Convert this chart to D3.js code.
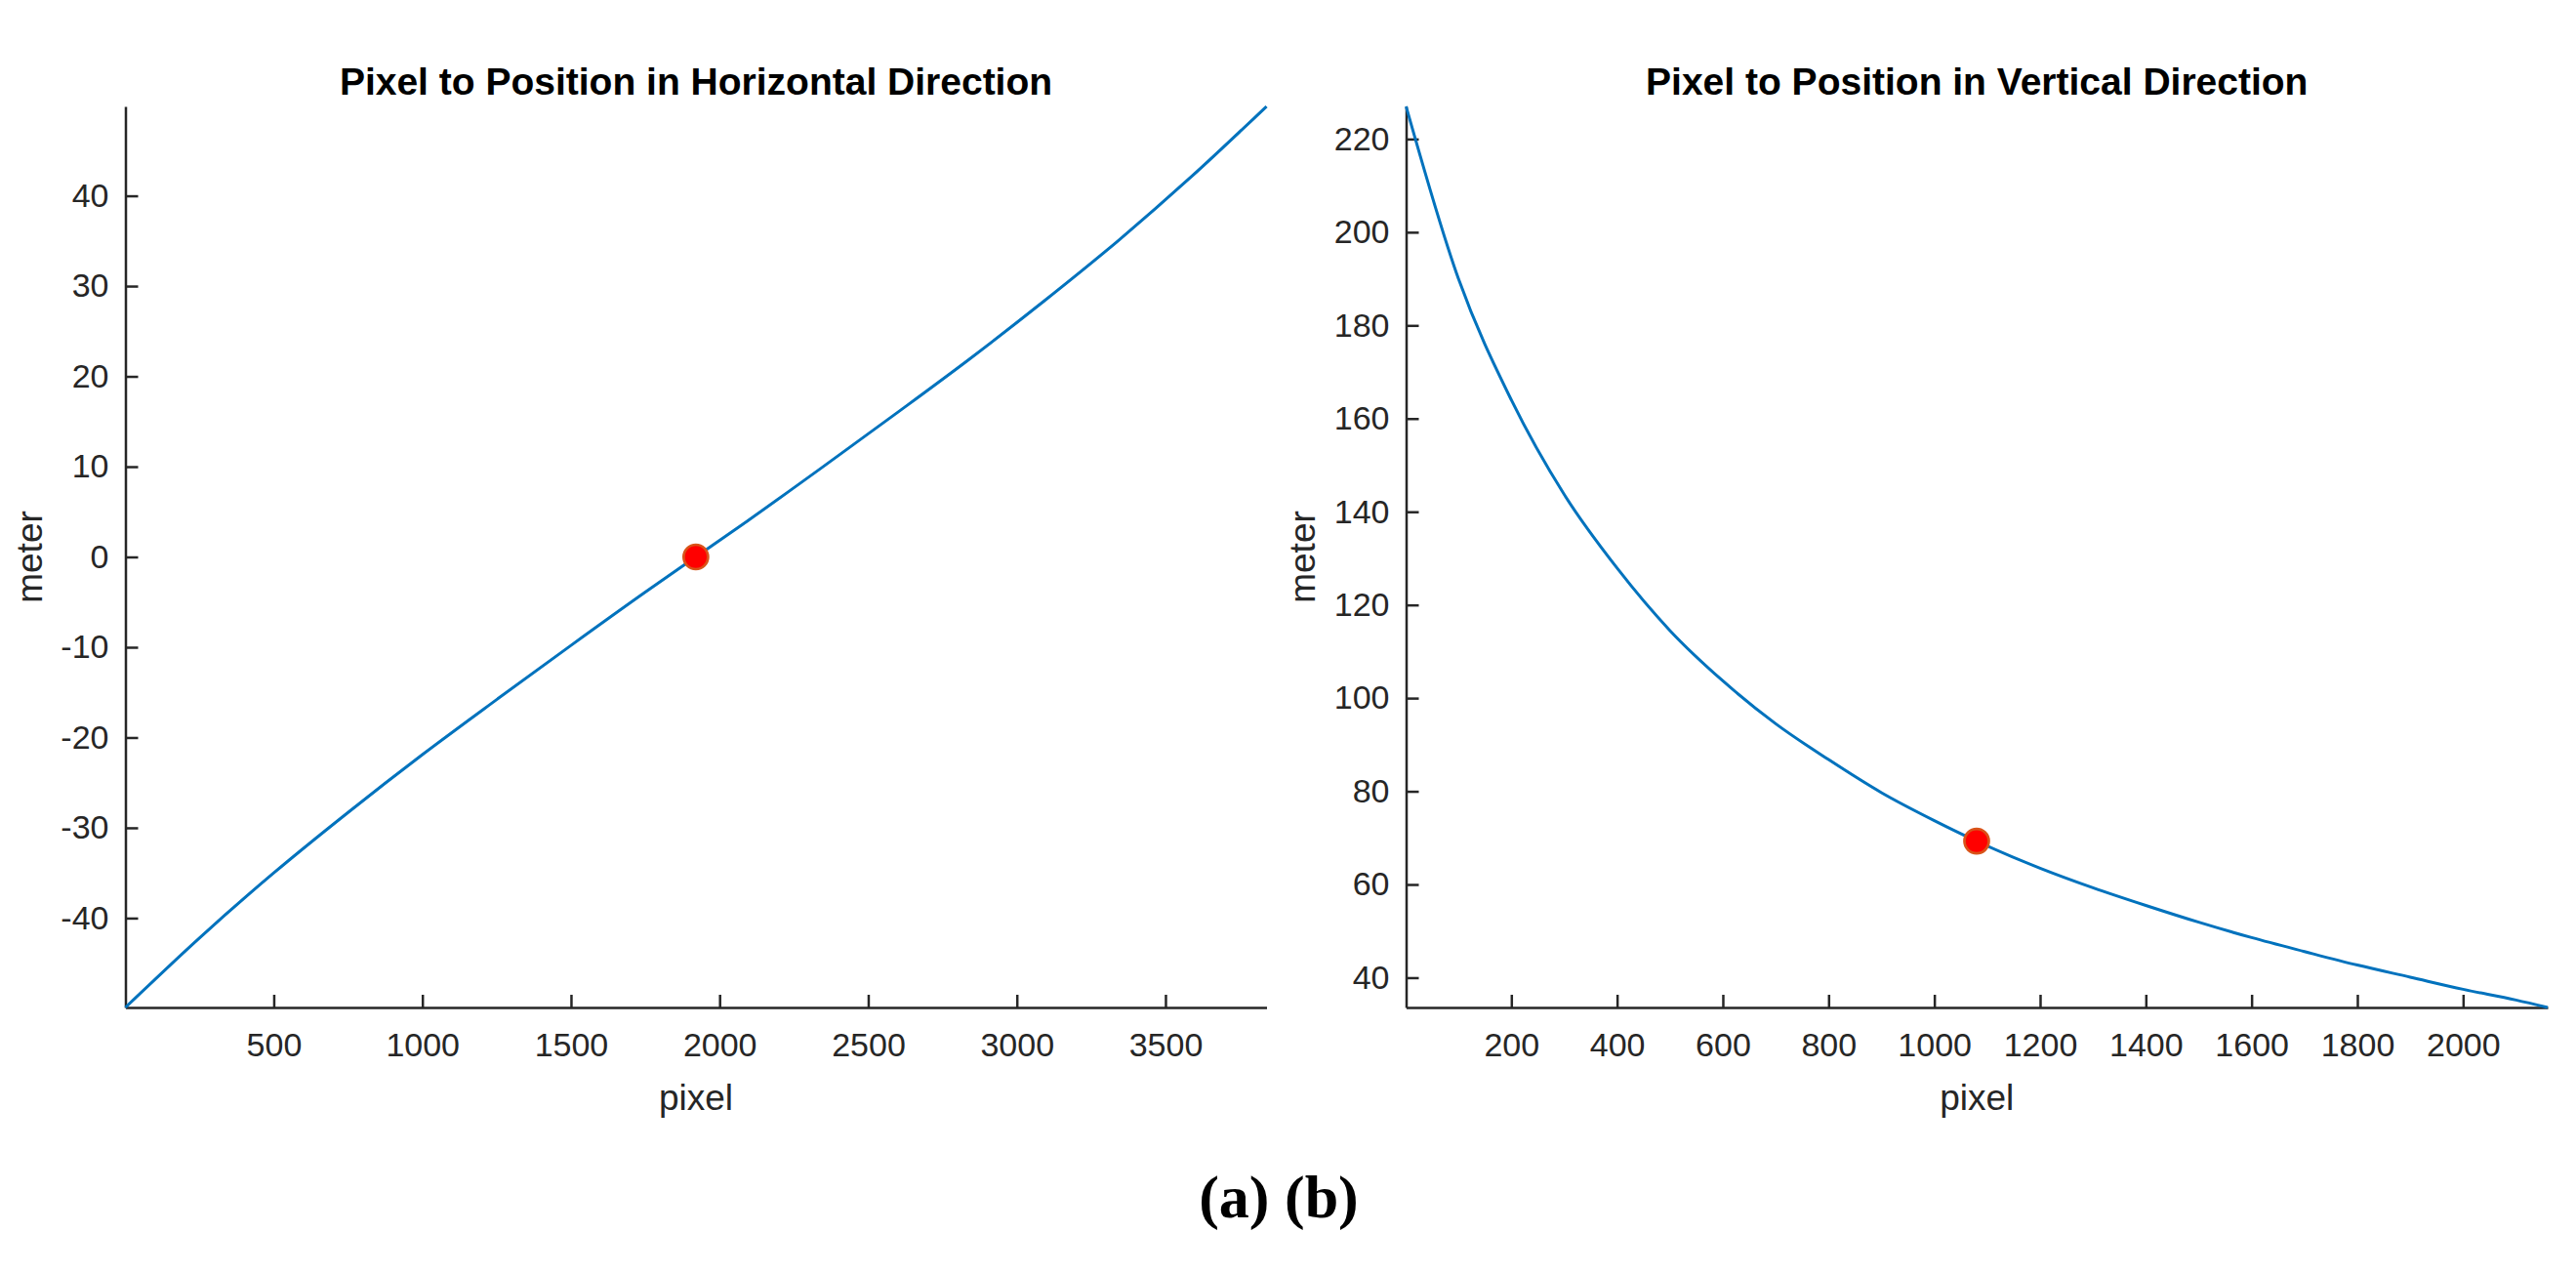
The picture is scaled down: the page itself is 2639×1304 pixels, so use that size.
<!DOCTYPE html>
<html>
<head>
<meta charset="utf-8">
<script src="https://cdn.jsdelivr.net/npm/d3@7"></script>
<style>
  body { margin: 0; background: #fff; }
  svg { display: block; }
  .tick text { font-family: "Liberation Sans", Arial, sans-serif; fill: #262626; }
</style>
</head>
<body>
<div id="container"></div>
<script>
// panel (a): horizontal direction
const pixelH = [1, 250, 500, 750, 1000, 1250, 1500, 1750, 1920, 2090, 2340, 2590, 2840, 3090, 3340, 3590, 3840];
const meterH = [-49.9, -42.2, -35.0, -28.3, -21.9, -15.8, -9.8, -3.9, 0, 3.9, 9.8, 15.8, 21.9, 28.3, 35.0, 42.2, 49.9];
const markerH = [1920, 0];
const xTicksH = [500, 1000, 1500, 2000, 2500, 3000, 3500];
const yTicksH = [-40, -30, -20, -10, 0, 10, 20, 30, 40];

// panel (b): vertical direction
const pixelV = [1, 100, 200, 300, 400, 500, 600, 700, 800, 900, 1000, 1080, 1200, 1300, 1400, 1500, 1600, 1700, 1800, 1900, 2000, 2100, 2160];
const meterV = [227.0, 190.0, 164.0, 143.7, 127.9, 114.5, 103.7, 94.5, 86.8, 79.7, 73.7, 69.3, 63.5, 59.3, 55.5, 51.9, 48.6, 45.6, 42.7, 40.1, 37.5, 35.2, 33.6];
const markerV = [1080, 69.3];
const xTicksV = [200, 400, 600, 800, 1000, 1200, 1400, 1600, 1800, 2000];
const yTicksV = [40, 60, 80, 100, 120, 140, 160, 180, 200, 220];

const width = 2639, height = 1304;
const axisColor = '#262626';
const lineColor = '#0072BD';

const svg = d3.select('#container')
  .append('svg')
  .attr('width', width)
  .attr('height', height);

svg.append('rect')
  .attr('width', width)
  .attr('height', height)
  .attr('fill', '#fff');

const drawPanel = (xs, ys, marker, xTicks, yTicks, titleText, left, right, ylabelX) => {
  const top = 109, bottom = 1032;

  const xScale = d3.scaleLinear()
    .domain(d3.extent(xs))
    .range([left, right]);

  const yScale = d3.scaleLinear()
    .domain(d3.extent(ys))
    .range([bottom, top]);

  const g = svg.append('g');

  //x axis, ticks pointing in
  g.append('g')
    .attr('transform', `translate(0, ${bottom})`)
    .call(d3.axisBottom(xScale)
      .tickValues(xTicks)
      .tickSizeInner(-13)
      .tickSizeOuter(0)
      .tickPadding(26)
      .tickFormat(d3.format('d')))
    .call(a => a.selectAll('text').style('font-size', '34px'));

  //y axis
  g.append('g')
    .attr('transform', `translate(${left}, 0)`)
    .call(d3.axisLeft(yScale)
      .tickValues(yTicks)
      .tickSizeInner(-13)
      .tickSizeOuter(0)
      .tickPadding(17)
      .tickFormat(d => d < 0 ? '-' + Math.abs(d) : d))
    .call(a => a.selectAll('text').style('font-size', '34px'));

  g.selectAll('.domain, .tick line')
    .attr('stroke', axisColor)
    .attr('stroke-width', 2.5);

  const line = d3.line()
    .x((d, i) => xScale(xs[i]))
    .y(d => yScale(d))
    .curve(d3.curveMonotoneX);

  g.append('path')
    .datum(ys)
    .attr('d', line)
    .attr('fill', 'none')
    .attr('stroke', lineColor)
    .attr('stroke-width', 3);

  g.append('circle')
    .attr('cx', xScale(marker[0]))
    .attr('cy', yScale(marker[1]))
    .attr('r', 12.5)
    .attr('fill', '#FF0000')
    .attr('stroke', '#D95319')
    .attr('stroke-width', 2.7);

  //title
  g.append('text')
    .attr('x', (left + right) / 2)
    .attr('y', 97)
    .attr('text-anchor', 'middle')
    .style('font-family', '"Liberation Sans", Arial, sans-serif')
    .style('font-weight', 'bold')
    .style('font-size', '39px')
    .attr('fill', '#000')
    .text(titleText);

  //x label
  g.append('text')
    .attr('x', (left + right) / 2)
    .attr('y', 1137)
    .attr('text-anchor', 'middle')
    .style('font-family', '"Liberation Sans", Arial, sans-serif')
    .style('font-size', '37px')
    .attr('fill', axisColor)
    .text('pixel');

  //y label
  g.append('text')
    .attr('transform', `translate(${ylabelX}, ${(top + bottom) / 2}) rotate(-90)`)
    .attr('text-anchor', 'middle')
    .style('font-family', '"Liberation Sans", Arial, sans-serif')
    .style('font-size', '37px')
    .attr('fill', axisColor)
    .text('meter');
}

drawPanel(pixelH, meterH, markerH, xTicksH, yTicksH, 'Pixel to Position in Horizontal Direction', 128.5, 1297.5, 43);
drawPanel(pixelV, meterV, markerV, xTicksV, yTicksV, 'Pixel to Position in Vertical Direction', 1440.5, 2610, 1347);

//caption
svg.append('text')
  .attr('x', 1310)
  .attr('y', 1247)
  .attr('text-anchor', 'middle')
  .style('font-family', '"Liberation Serif", "Times New Roman", serif')
  .style('font-weight', 'bold')
  .style('font-size', '62px')
  .attr('fill', '#000')
  .text('(a) (b)');
</script>
</body>
</html>
